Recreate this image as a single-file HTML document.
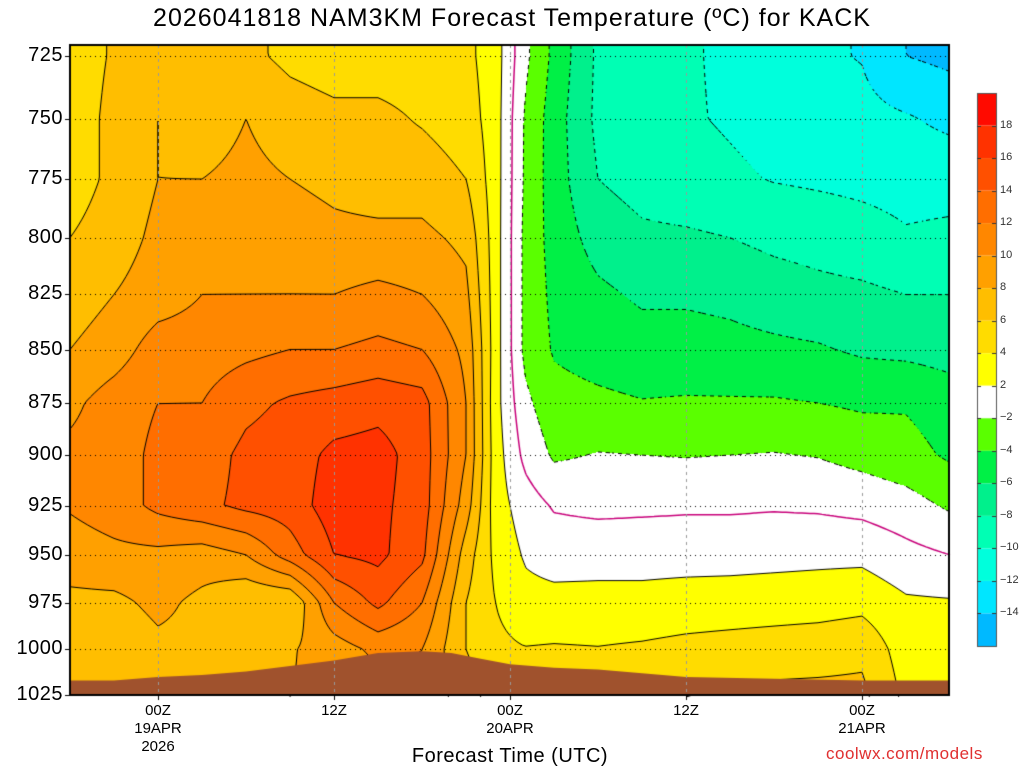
<!DOCTYPE html>
<html><head><meta charset="utf-8">
<style>
body{margin:0;background:#fff;width:1024px;height:768px;overflow:hidden;font-family:"Liberation Sans",sans-serif;}
#wrap{position:relative;width:1024px;height:768px;}
canvas{position:absolute;left:0;top:0;}
.t{position:absolute;white-space:nowrap;color:#000;}
</style></head>
<body>
<div id="wrap">
<canvas id="c" width="1024" height="768"></canvas>
<div class="t" style="left:0;width:1024px;text-align:center;top:4px;font-size:25px;letter-spacing:1px;">2026041818 NAM3KM Forecast Temperature (ºC) for KACK</div>
<div class="t" style="left:300px;width:420px;text-align:center;top:745px;font-size:20px;letter-spacing:0.5px;">Forecast Time (UTC)</div>
<div class="t" style="left:826px;top:744px;font-size:17px;color:#e03030;letter-spacing:0.5px;">coolwx.com/models</div>
<div id="labels"></div>
</div>
<script>
// ---- data ----
const times = [-6,-3,0,3,6,9,12,15,18,21,23,25,27,30,33,36,39,42,45,48,51,54];
const levels = [725,750,775,800,825,850,875,900,925,950,975,1000,1025];
const T725 = [5,6.2,7,7,6.5,5.5,5,5,5,4.5,3,-1.5,-4.5,-8.4,-9.2,-9.8,-10.3,-11,-11.7,-12.1,-14,-14.5];
const T750 = [5,6.5,8,7,8,7,6.5,6.5,5.8,5,3,-2.2,-5,-8.5,-9.4,-9.8,-10.2,-10.6,-11,-11.4,-11.8,-12.5];
const T775 = [5,6.5,8,8,8.5,8,7.5,7,7,6,3,-2.3,-5,-8,-8.8,-9.3,-9.7,-10.1,-10.3,-10.5,-10.7,-10.7];
const T800 = [6,7,8.5,9,9,9,8.5,8.5,8.5,7.5,3,-2.5,-4.8,-6.8,-7.6,-7.7,-8,-8.5,-8.8,-9.2,-9.8,-9.6];
const T825 = [7,8,9,10,10,10,10,10.5,10,8.5,3,-2.5,-4.5,-5.6,-6.3,-6.3,-6.5,-7,-7.4,-7.6,-8,-8];
const T850 = [8,9,11,11,11.5,12,12,12.5,12,9.5,3,-2.5,-4.2,-4.8,-5.2,-5.2,-5.4,-5.6,-5.8,-6.3,-6.5,-6.8];
const T875 = [9.5,11,12,12,13.5,14.3,14.8,15.3,14.8,10,2.8,-1.5,-3.3,-3.6,-3.9,-3.8,-3.8,-3.8,-4,-4.3,-4.2,-5];
const T900 = [10.5,11,12.5,13,14.5,15,16.5,16.8,15,10,3,-0.5,-2.3,-1.9,-2,-2.1,-2,-1.9,-2.1,-2.7,-3.3,-4.3];
const T925 = [10.2,11,12.5,13.5,14.5,15,17,16.5,15,9,3,1,-0.2,-0.5,-0.4,-0.3,-0.3,-0.2,-0.3,-0.6,-1.2,-2.3];
const T950 = [9,9.5,9.5,9,10,13,16,16.5,14.5,7,3.5,1.8,1.2,1.3,1.3,1.3,1.3,1.4,1.5,1.5,0.6,0];
const T975 = [7.5,7.5,8.5,7.5,6,6,12,14.5,12,6,4,2.6,2.6,2.6,2.6,2.8,2.9,3,3.1,3.4,2.3,2.2];
const T1000 = [7,6.5,7.5,7.5,7.5,7.8,9,10.5,10,6,4.5,4.1,4.2,4.1,4.3,4.6,4.8,5,5.2,5.5,3,3.5];
const T1025 = [7,7,7.5,7.5,7.8,8,8.5,9,9.5,7,5,4.5,4.6,5,5.5,6,6.2,6.5,6.5,6.5,3.5,4];
const grid = [T725,T750,T775,T800,T825,T850,T875,T900,T925,T950,T975,T1000,T1025];
const sfcTimes = [-6,-3,0,3,6,9,12,15,18,20,22,24,27,30,33,36,42,48,54];
const sfcP = [1017,1017,1015,1014,1012,1009,1006,1002,1001,1002,1005,1008,1010,1011,1013,1015,1016,1017,1017];
const pTicks = [725,750,775,800,825,850,875,900,925,950,975,1000,1025];
const tTicks = [0,12,24,36,48];
const tTickLabels = [["00Z","19APR","2026"],["12Z"],["00Z","20APR"],["12Z"],["00Z","21APR"]];
const cbBounds = [18,16,14,12,10,8,6,4,2,-2,-4,-6,-8,-10,-12,-14];
const cbColors = ["#ff0a00","#ff3200","#ff5000","#ff6e00","#ff8700","#ffa000","#ffbe00","#ffdc00","#ffff00","#ffffff","#5aff00","#00f046","#00f08c","#00ffb4","#00ffdc","#00e6ff","#00b9ff"];
const contourLevels = [-14,-12,-10,-8,-6,-4,-2,0,2,4,6,8,10,12,14,16,18];

// ---- axes ----
const X0=70,X1=949,Y0=45,Y1=695;
const xOf=t=>158+t*(176/12);
const lp0=Math.log(725),lp1=Math.log(1025);
const yOf=p=>56+(Math.log(p)-lp0)/(lp1-lp0)*639;
const tOfX=x=>(x-158)*12/176;
const rowY=levels.map(yOf);

function val(x,y){
  let t=tOfX(x);
  let i=0,a;
  if(t<=times[0]){i=0;a=0;}
  else if(t>=times[times.length-1]){i=times.length-2;a=1;}
  else{while(times[i+1]<t)i++; a=(t-times[i])/(times[i+1]-times[i]);}
  let j=0,b;
  if(y<=rowY[0]){j=0;b=0;}
  else if(y>=rowY[rowY.length-1]){j=rowY.length-2;b=1;}
  else{while(rowY[j+1]<y)j++; b=(y-rowY[j])/(rowY[j+1]-rowY[j]);}
  const g=grid;
  return (g[j][i]*(1-a)+g[j][i+1]*a)*(1-b)+(g[j+1][i]*(1-a)+g[j+1][i+1]*a)*b;
}
function colorIdx(v){
  for(let k=0;k<cbBounds.length;k++){ if(v>=cbBounds[k]) return k; }
  return cbBounds.length;
}
function hex(h){return [parseInt(h.substr(1,2),16),parseInt(h.substr(3,2),16),parseInt(h.substr(5,2),16)];}
const rgb=cbColors.map(hex);

const cv=document.getElementById('c'),ctx=cv.getContext('2d');
const img=ctx.createImageData(X1-X0,Y1-Y0);
for(let y=Y0;y<Y1;y++)for(let x=X0;x<X1;x++){
  const c=rgb[colorIdx(val(x+0.5,y+0.5))];
  const o=((y-Y0)*(X1-X0)+(x-X0))*4;
  img.data[o]=c[0];img.data[o+1]=c[1];img.data[o+2]=c[2];img.data[o+3]=255;
}
ctx.putImageData(img,X0,Y0);

// contours via marching squares
const S=4;
const nx=Math.ceil((X1-X0)/S)+1, ny=Math.ceil((Y1-Y0)/S)+1;
const F=[];
for(let j=0;j<ny;j++){F.push([]);for(let i=0;i<nx;i++)F[j].push(val(X0+i*S,Y0+j*S));}
contourLevels.forEach(L=>{
  ctx.beginPath();
  ctx.strokeStyle = L===0?'#c8007a':'#000';
  ctx.lineWidth = L===0?1.5:1;
  for(let j=0;j<ny-1;j++)for(let i=0;i<nx-1;i++){
    const v=[F[j][i],F[j][i+1],F[j+1][i+1],F[j+1][i]];
    const px=[X0+i*S,X0+(i+1)*S,X0+(i+1)*S,X0+i*S],py=[Y0+j*S,Y0+j*S,Y0+(j+1)*S,Y0+(j+1)*S];
    const pts=[];
    for(let e=0;e<4;e++){const a=v[e],b=v[(e+1)%4];
      if((a<L)!==(b<L)){const f=(L-a)/(b-a);pts.push([px[e]+(px[(e+1)%4]-px[e])*f,py[e]+(py[(e+1)%4]-py[e])*f]);}}
    const seg=(p,q)=>{
      if(L<0){ // dashed: draw only on alternating cells
        if(((i+j)%2)===0) return;
      }
      ctx.moveTo(p[0],p[1]);ctx.lineTo(q[0],q[1]);
    };
    if(pts.length>=2)seg(pts[0],pts[1]);
    if(pts.length===4)seg(pts[2],pts[3]);
  }
  ctx.stroke();
});

// ground
ctx.fillStyle='#a0522d';
ctx.beginPath();ctx.moveTo(X0,Y1);
sfcTimes.forEach((t,k)=>ctx.lineTo(Math.max(X0,Math.min(X1,xOf(t))),yOf(sfcP[k])));
ctx.lineTo(X1,Y1);ctx.closePath();ctx.fill();

// grid lines
ctx.strokeStyle='#000';ctx.lineWidth=1;ctx.setLineDash([1,4]);
pTicks.forEach(p=>{const y=Math.round(yOf(p))+0.5;ctx.beginPath();ctx.moveTo(X0,y);ctx.lineTo(X1,y);ctx.stroke();});
ctx.strokeStyle='#999';ctx.setLineDash([3,4]);
tTicks.forEach(t=>{const x=Math.round(xOf(t))+0.5;ctx.beginPath();ctx.moveTo(x,Y0);ctx.lineTo(x,Y1);ctx.stroke();});
ctx.setLineDash([]);
// frame
ctx.strokeStyle='#000';ctx.lineWidth=2;ctx.strokeRect(X0,Y0,X1-X0,Y1-Y0);
ctx.lineWidth=1;
pTicks.forEach(p=>{const y=Math.round(yOf(p))+0.5;ctx.beginPath();ctx.moveTo(X0-5,y);ctx.lineTo(X0,y);ctx.stroke();});
tTicks.forEach(t=>{const x=Math.round(xOf(t))+0.5;ctx.beginPath();ctx.moveTo(x,Y1);ctx.lineTo(x,Y1+5);ctx.stroke();});

// colorbar
const cbX=977,cbW=19,cbTop=93,cbH=553,bh=cbH/cbColors.length;
cbColors.forEach((c,k)=>{ctx.fillStyle=c;ctx.fillRect(cbX,cbTop+k*bh,cbW,bh);});
ctx.strokeStyle='#555';ctx.strokeRect(cbX+0.5,cbTop+0.5,cbW,cbH);
ctx.strokeStyle='#333';
cbBounds.forEach((b,k)=>{const y=Math.round(cbTop+(k+1)*bh)+0.5;ctx.beginPath();ctx.moveTo(cbX,y);ctx.lineTo(cbX+4,y);ctx.moveTo(cbX+cbW-4,y);ctx.lineTo(cbX+cbW,y);ctx.stroke();});

// labels
const lab=document.getElementById('labels');
pTicks.forEach(p=>{
  const d=document.createElement('div');
  
  
  d.className='t';d.textContent=p;
  d.style.cssText+='right:'+(1024-63)+'px;top:'+(yOf(p)-12)+'px;font-size:20px;letter-spacing:0.5px;';
  lab.appendChild(d);
});
tTicks.forEach((t,k)=>{
  const d=document.createElement('div');
  
  
  d.className='t';d.innerHTML=tTickLabels[k].join('<br>');
  d.style.cssText+='left:'+(xOf(t)-40)+'px;width:80px;text-align:center;top:702px;font-size:15px;line-height:18px;';
  lab.appendChild(d);
});
cbBounds.forEach((b,k)=>{
  const d=document.createElement('div');
  
  
  d.className='t';d.textContent=b<0?'\u2212'+(-b):b;
  d.style.cssText+='left:1000px;top:'+(cbTop+(k+1)*bh-7)+'px;font-size:11px;color:#333;';
  lab.appendChild(d);
});
</script>
</body></html>
